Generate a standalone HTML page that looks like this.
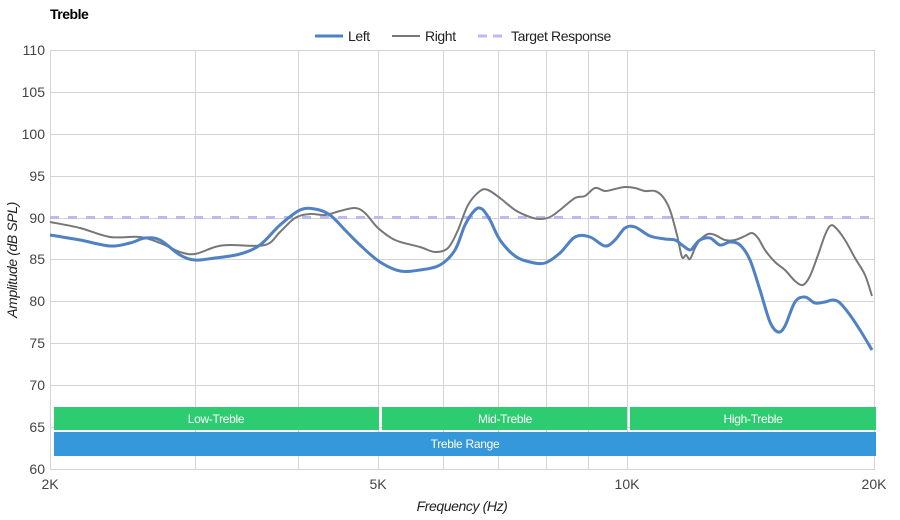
<!DOCTYPE html>
<html><head><meta charset="utf-8"><style>
html,body{margin:0;padding:0;background:#fff;}
svg{display:block;font-family:"Liberation Sans",sans-serif;}
</style></head><body>
<svg width="900" height="520" viewBox="0 0 900 520">
<text x="50" y="19" font-size="14" font-weight="bold" fill="#000" letter-spacing="-0.5">Treble</text>
<g font-size="14" fill="#222" letter-spacing="-0.4">
<line x1="315" y1="36" x2="343" y2="36" stroke="#4f81c4" stroke-width="3"/>
<text x="348" y="41">Left</text>
<line x1="392" y1="36" x2="420" y2="36" stroke="#777" stroke-width="2"/>
<text x="425" y="41">Right</text>
<line x1="478" y1="36" x2="506" y2="36" stroke="#bbbbf4" stroke-width="3" stroke-dasharray="9,6"/>
<text x="511" y="41">Target Response</text>
</g>
<g stroke="#d4d4d4" stroke-width="1">
<line x1="50" y1="50.5" x2="875" y2="50.5"/><line x1="50" y1="92.5" x2="875" y2="92.5"/>
<line x1="50" y1="134.5" x2="875" y2="134.5"/><line x1="50" y1="176.5" x2="875" y2="176.5"/>
<line x1="50" y1="218.5" x2="875" y2="218.5"/><line x1="50" y1="259.5" x2="875" y2="259.5"/>
<line x1="50" y1="301.5" x2="875" y2="301.5"/><line x1="50" y1="343.5" x2="875" y2="343.5"/>
<line x1="50" y1="385.5" x2="875" y2="385.5"/><line x1="50" y1="427.5" x2="875" y2="427.5"/>
<line x1="50" y1="469.5" x2="875" y2="469.5"/>
<line x1="50.5" y1="50" x2="50.5" y2="469"/><line x1="195.5" y1="50" x2="195.5" y2="469"/>
<line x1="298.5" y1="50" x2="298.5" y2="469"/><line x1="378.5" y1="50" x2="378.5" y2="469"/>
<line x1="443.5" y1="50" x2="443.5" y2="469"/><line x1="498.5" y1="50" x2="498.5" y2="469"/>
<line x1="546.5" y1="50" x2="546.5" y2="469"/><line x1="588.5" y1="50" x2="588.5" y2="469"/>
<line x1="627.5" y1="50" x2="627.5" y2="469"/><line x1="874.5" y1="50" x2="874.5" y2="469"/>
</g>
<g font-size="14" fill="#444" text-anchor="end">
<text x="45" y="55">110</text><text x="45" y="97">105</text><text x="45" y="139">100</text>
<text x="45" y="181">95</text><text x="45" y="223">90</text><text x="45" y="264">85</text>
<text x="45" y="306">80</text><text x="45" y="348">75</text><text x="45" y="390">70</text>
<text x="45" y="432">65</text><text x="45" y="474">60</text>
</g>
<g font-size="14" fill="#444" text-anchor="middle">
<text x="50" y="489">2K</text><text x="378" y="489">5K</text><text x="627" y="489">10K</text><text x="874" y="489">20K</text>
</g>
<text x="462" y="511" font-size="14" font-style="italic" fill="#222" text-anchor="middle" letter-spacing="-0.4">Frequency (Hz)</text>
<text transform="translate(17,260) rotate(-90)" font-size="14" font-style="italic" fill="#222" text-anchor="middle" letter-spacing="-0.4">Amplitude (dB SPL)</text>
<line x1="50" y1="217.5" x2="875" y2="217.5" stroke="#bbbbf4" stroke-width="3" stroke-dasharray="9,9"/>
<path id="right" fill="none" stroke="#777" stroke-width="2" stroke-linejoin="round"/>
<path id="left" fill="none" stroke="#4f81c4" stroke-width="3" stroke-linejoin="round"/>
<g font-size="12" fill="#fff" text-anchor="middle" letter-spacing="-0.3">
<rect x="54" y="407" width="325" height="23" fill="#2ecc71"/>
<rect x="382" y="407" width="245" height="23" fill="#2ecc71"/>
<rect x="630" y="407" width="246" height="23" fill="#2ecc71"/>
<rect x="54" y="432" width="822" height="24" fill="#3498db"/>
<text x="216" y="423">Low-Treble</text>
<text x="505" y="423">Mid-Treble</text>
<text x="753" y="423">High-Treble</text>
<text x="465" y="448">Treble Range</text>
</g>
</svg>
<script>
function sm(s){var p=s.trim().split(/\s+/).map(function(t){return t.split(',').map(Number);});
var d='M'+p[0][0]+','+p[0][1];
for(var i=0;i<p.length-1;i++){var a=p[i-1]||p[i],b=p[i],c=p[i+1],e=p[i+2]||c;
d+=' C'+(b[0]+(c[0]-a[0])/6).toFixed(1)+','+(b[1]+(c[1]-a[1])/6).toFixed(1)+' '+(c[0]-(e[0]-b[0])/6).toFixed(1)+','+(c[1]-(e[1]-b[1])/6).toFixed(1)+' '+c[0]+','+c[1];}
return d;}
document.getElementById('right').setAttribute('d',sm("50,222 80,228 110,237 140,237 160,243 180,252 195,254 215,247 230,245 265,245 280,232 295,218 310,214 325,215 340,211 355,208 365,213 378,228 395,240 420,247 435,252 448,248 458,230 468,205 480,191 488,190 500,198 515,210 530,217 540,219 550,217 560,210 575,198 585,196 595,188 605,191 615,189 625,187 635,188 645,191 655,191 663,197 670,210 677,235 682,257 686,255 690,259 695,248 700,240 708,234 715,235 725,240 735,240 745,236 752,233 758,238 765,250 775,262 785,270 795,281 803,285 810,276 818,255 825,235 830,226 835,227 845,240 855,258 865,275 872,296"));
document.getElementById('left').setAttribute('d',sm("50,235 80,240 110,246 130,243 145,238 160,240 180,255 195,260 215,258 240,254 260,245 280,225 300,210 315,209 330,215 345,230 360,245 380,262 400,271 420,270 440,265 455,250 465,225 475,210 482,209 490,220 500,240 515,256 530,262 545,263 560,253 575,237 590,237 605,246 615,240 625,228 635,227 650,236 665,239 675,240 682,245 690,250 695,245 700,240 710,238 720,245 730,242 740,245 750,260 760,290 770,322 778,332 785,326 795,302 805,297 815,303 825,302 833,300 840,303 850,315 860,330 872,350"));
</script>
</body></html>
